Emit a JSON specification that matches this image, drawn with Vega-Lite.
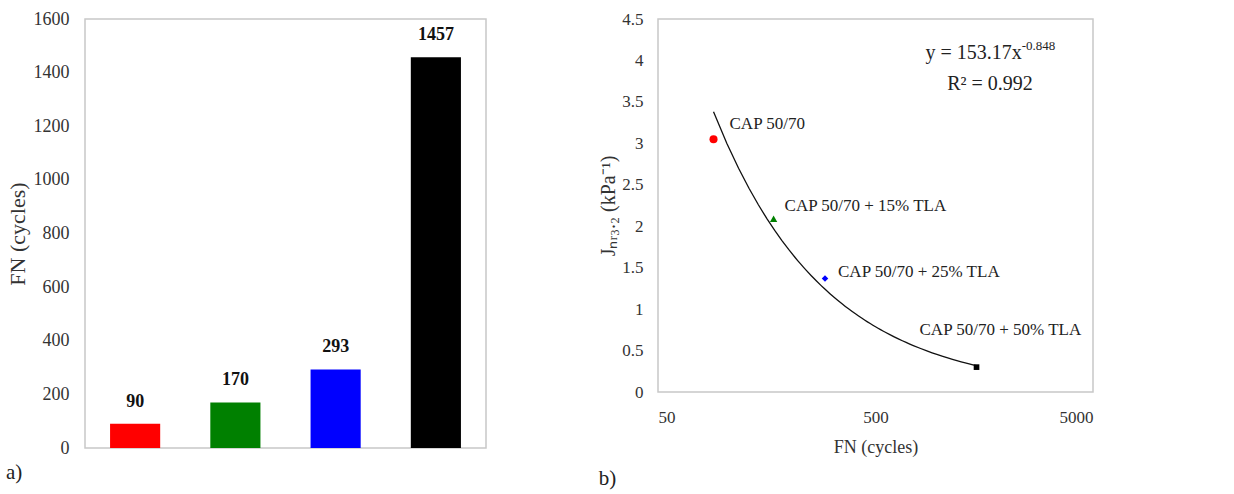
{
  "$schema": "https://vega.github.io/schema/vega-lite/v6.json",
  "padding": {"left": 5, "top": 9, "right": 0, "bottom": 0},
  "background": "white",
  "config": {
    "font": "Liberation Serif",
    "view": {"stroke": "#c8c8c8", "strokeWidth": 1.5},
    "axis": {
      "labelFont": "Liberation Serif",
      "titleFont": "Liberation Serif",
      "labelColor": "#333333",
      "titleColor": "#333333",
      "titleFontWeight": "normal",
      "grid": false,
      "ticks": false,
      "domain": false
    },
    "text": {"font": "Liberation Serif"},
    "title": {"font": "Liberation Serif", "fontWeight": "normal", "color": "#222222"}
  },
  "spacing": 111,
  "hconcat": [
    {
      "width": 401,
      "height": 429,
      "title": {"text": "a)", "orient": "bottom", "anchor": "start", "frame": "bounds", "fontSize": 21, "offset": 5},
      "data": {
        "values": [
          {"mix": "CAP 50/70", "FN": 90},
          {"mix": "CAP 50/70 + 15% TLA", "FN": 170},
          {"mix": "CAP 50/70 + 25% TLA", "FN": 293},
          {"mix": "CAP 50/70 + 50% TLA", "FN": 1457}
        ]
      },
      "encoding": {
        "x": {
          "field": "mix",
          "type": "nominal",
          "sort": null,
          "axis": null,
          "scale": {"paddingInner": 0.5, "paddingOuter": 0.25}
        },
        "y": {
          "field": "FN",
          "type": "quantitative",
          "scale": {"domain": [0, 1600], "nice": false},
          "axis": {
            "title": "FN (cycles)",
            "values": [0, 200, 400, 600, 800, 1000, 1200, 1400, 1600],
            "format": "d",
            "labelFont": "Liberation Serif",
            "labelFontSize": 18,
            "titleFontSize": 22,
            "labelPadding": 16,
            "titlePadding": 4
          }
        }
      },
      "layer": [
        {
          "mark": {"type": "bar"},
          "encoding": {
            "color": {
              "field": "mix",
              "type": "nominal",
              "scale": {
                "domain": ["CAP 50/70", "CAP 50/70 + 15% TLA", "CAP 50/70 + 25% TLA", "CAP 50/70 + 50% TLA"],
                "range": ["#ff0000", "#008000", "#0000ff", "#000000"]
              },
              "legend": null
            }
          }
        },
        {
          "mark": {"type": "text", "dy": -22, "fontSize": 18, "fontWeight": "bold", "font": "Liberation Serif", "color": "#111111", "baseline": "middle"},
          "encoding": {"text": {"field": "FN", "type": "quantitative"}}
        }
      ]
    },
    {
      "width": 435,
      "height": 373,
      "title": {"text": "b)", "orient": "bottom", "anchor": "start", "frame": "bounds", "fontSize": 21, "offset": 12},
      "data": {
        "values": [
          {"label": "CAP 50/70", "FN": 90, "J": 3.05},
          {"label": "CAP 50/70 + 15% TLA", "FN": 170, "J": 2.09},
          {"label": "CAP 50/70 + 25% TLA", "FN": 293, "J": 1.37},
          {"label": "CAP 50/70 + 50% TLA", "FN": 1457, "J": 0.30}
        ]
      },
      "layer": [
        {
          "transform": [{"regression": "J", "on": "FN", "method": "pow"}],
          "mark": {"type": "line", "color": "#111111", "strokeWidth": 1.3},
          "encoding": {
            "x": {
              "field": "FN",
              "type": "quantitative",
              "scale": {"type": "log", "domain": [50, 5000], "nice": false},
              "axis": {
                "title": "FN (cycles)",
                "values": [50, 500, 5000],
                "format": "d",
                "labelFont": "Liberation Serif",
                "labelFontSize": 17,
                "titleFontSize": 18,
                "labelPadding": 17,
                "titlePadding": 13
              }
            },
            "y": {
              "field": "J",
              "type": "quantitative",
              "scale": {"domain": [0, 4.5], "nice": false},
              "axis": {
                "title": "Jₙᵣ₃.₂ (kPa⁻¹)",
                "values": [0, 0.5, 1, 1.5, 2, 2.5, 3, 3.5, 4, 4.5],
                "format": "~g",
                "labelFont": "Liberation Serif",
                "labelFontSize": 17,
                "titleFontSize": 20,
                "labelPadding": 15,
                "titlePadding": 3
              }
            }
          }
        },
        {
          "mark": {"type": "point", "filled": true, "opacity": 1},
          "encoding": {
            "x": {"field": "FN", "type": "quantitative"},
            "y": {"field": "J", "type": "quantitative"},
            "shape": {
              "field": "label",
              "type": "nominal",
              "scale": {
                "domain": ["CAP 50/70", "CAP 50/70 + 15% TLA", "CAP 50/70 + 25% TLA", "CAP 50/70 + 50% TLA"],
                "range": ["circle", "triangle-up", "diamond", "square"]
              },
              "legend": null
            },
            "color": {
              "field": "label",
              "type": "nominal",
              "scale": {
                "domain": ["CAP 50/70", "CAP 50/70 + 15% TLA", "CAP 50/70 + 25% TLA", "CAP 50/70 + 50% TLA"],
                "range": ["#ff0000", "#008000", "#0000ff", "#000000"]
              },
              "legend": null
            },
            "size": {
              "field": "label",
              "type": "nominal",
              "scale": {
                "domain": ["CAP 50/70", "CAP 50/70 + 15% TLA", "CAP 50/70 + 25% TLA", "CAP 50/70 + 50% TLA"],
                "range": [65, 32, 32, 70]
              },
              "legend": null
            }
          }
        },
        {
          "transform": [{"filter": "datum.label === 'CAP 50/70'"}],
          "mark": {"type": "text", "align": "left", "baseline": "middle", "dx": 16, "dy": -15, "fontSize": 17, "color": "#222222"},
          "encoding": {"x": {"field": "FN", "type": "quantitative"}, "y": {"field": "J", "type": "quantitative"}, "text": {"field": "label"}}
        },
        {
          "transform": [{"filter": "datum.label === 'CAP 50/70 + 15% TLA'"}],
          "mark": {"type": "text", "align": "left", "baseline": "middle", "dx": 11, "dy": -13, "fontSize": 17, "color": "#222222"},
          "encoding": {"x": {"field": "FN", "type": "quantitative"}, "y": {"field": "J", "type": "quantitative"}, "text": {"field": "label"}}
        },
        {
          "transform": [{"filter": "datum.label === 'CAP 50/70 + 25% TLA'"}],
          "mark": {"type": "text", "align": "left", "baseline": "middle", "dx": 13, "dy": -6, "fontSize": 17, "color": "#222222"},
          "encoding": {"x": {"field": "FN", "type": "quantitative"}, "y": {"field": "J", "type": "quantitative"}, "text": {"field": "label"}}
        },
        {
          "transform": [{"filter": "datum.label === 'CAP 50/70 + 50% TLA'"}],
          "mark": {"type": "text", "align": "left", "baseline": "middle", "dx": -57, "dy": -37, "fontSize": 17, "color": "#222222"},
          "encoding": {"x": {"field": "FN", "type": "quantitative"}, "y": {"field": "J", "type": "quantitative"}, "text": {"field": "label"}}
        },
        {
          "data": {"values": [{"note": "fit"}]},
          "mark": {"type": "text", "align": "right", "baseline": "middle", "fontSize": 20, "color": "#222222", "text": "y = 153.17x"},
          "encoding": {"x": {"datum": 2350, "type": "quantitative"}, "y": {"datum": 4.09, "type": "quantitative"}}
        },
        {
          "data": {"values": [{"note": "fit"}]},
          "mark": {"type": "text", "align": "left", "baseline": "middle", "dy": -7, "fontSize": 13, "color": "#222222", "text": "-0.848"},
          "encoding": {"x": {"datum": 2350, "type": "quantitative"}, "y": {"datum": 4.09, "type": "quantitative"}}
        },
        {
          "data": {"values": [{"note": "fit"}]},
          "mark": {"type": "text", "align": "center", "baseline": "middle", "fontSize": 20, "color": "#222222", "text": "R² = 0.992"},
          "encoding": {"x": {"datum": 1680, "type": "quantitative"}, "y": {"datum": 3.71, "type": "quantitative"}}
        }
      ]
    }
  ]
}
